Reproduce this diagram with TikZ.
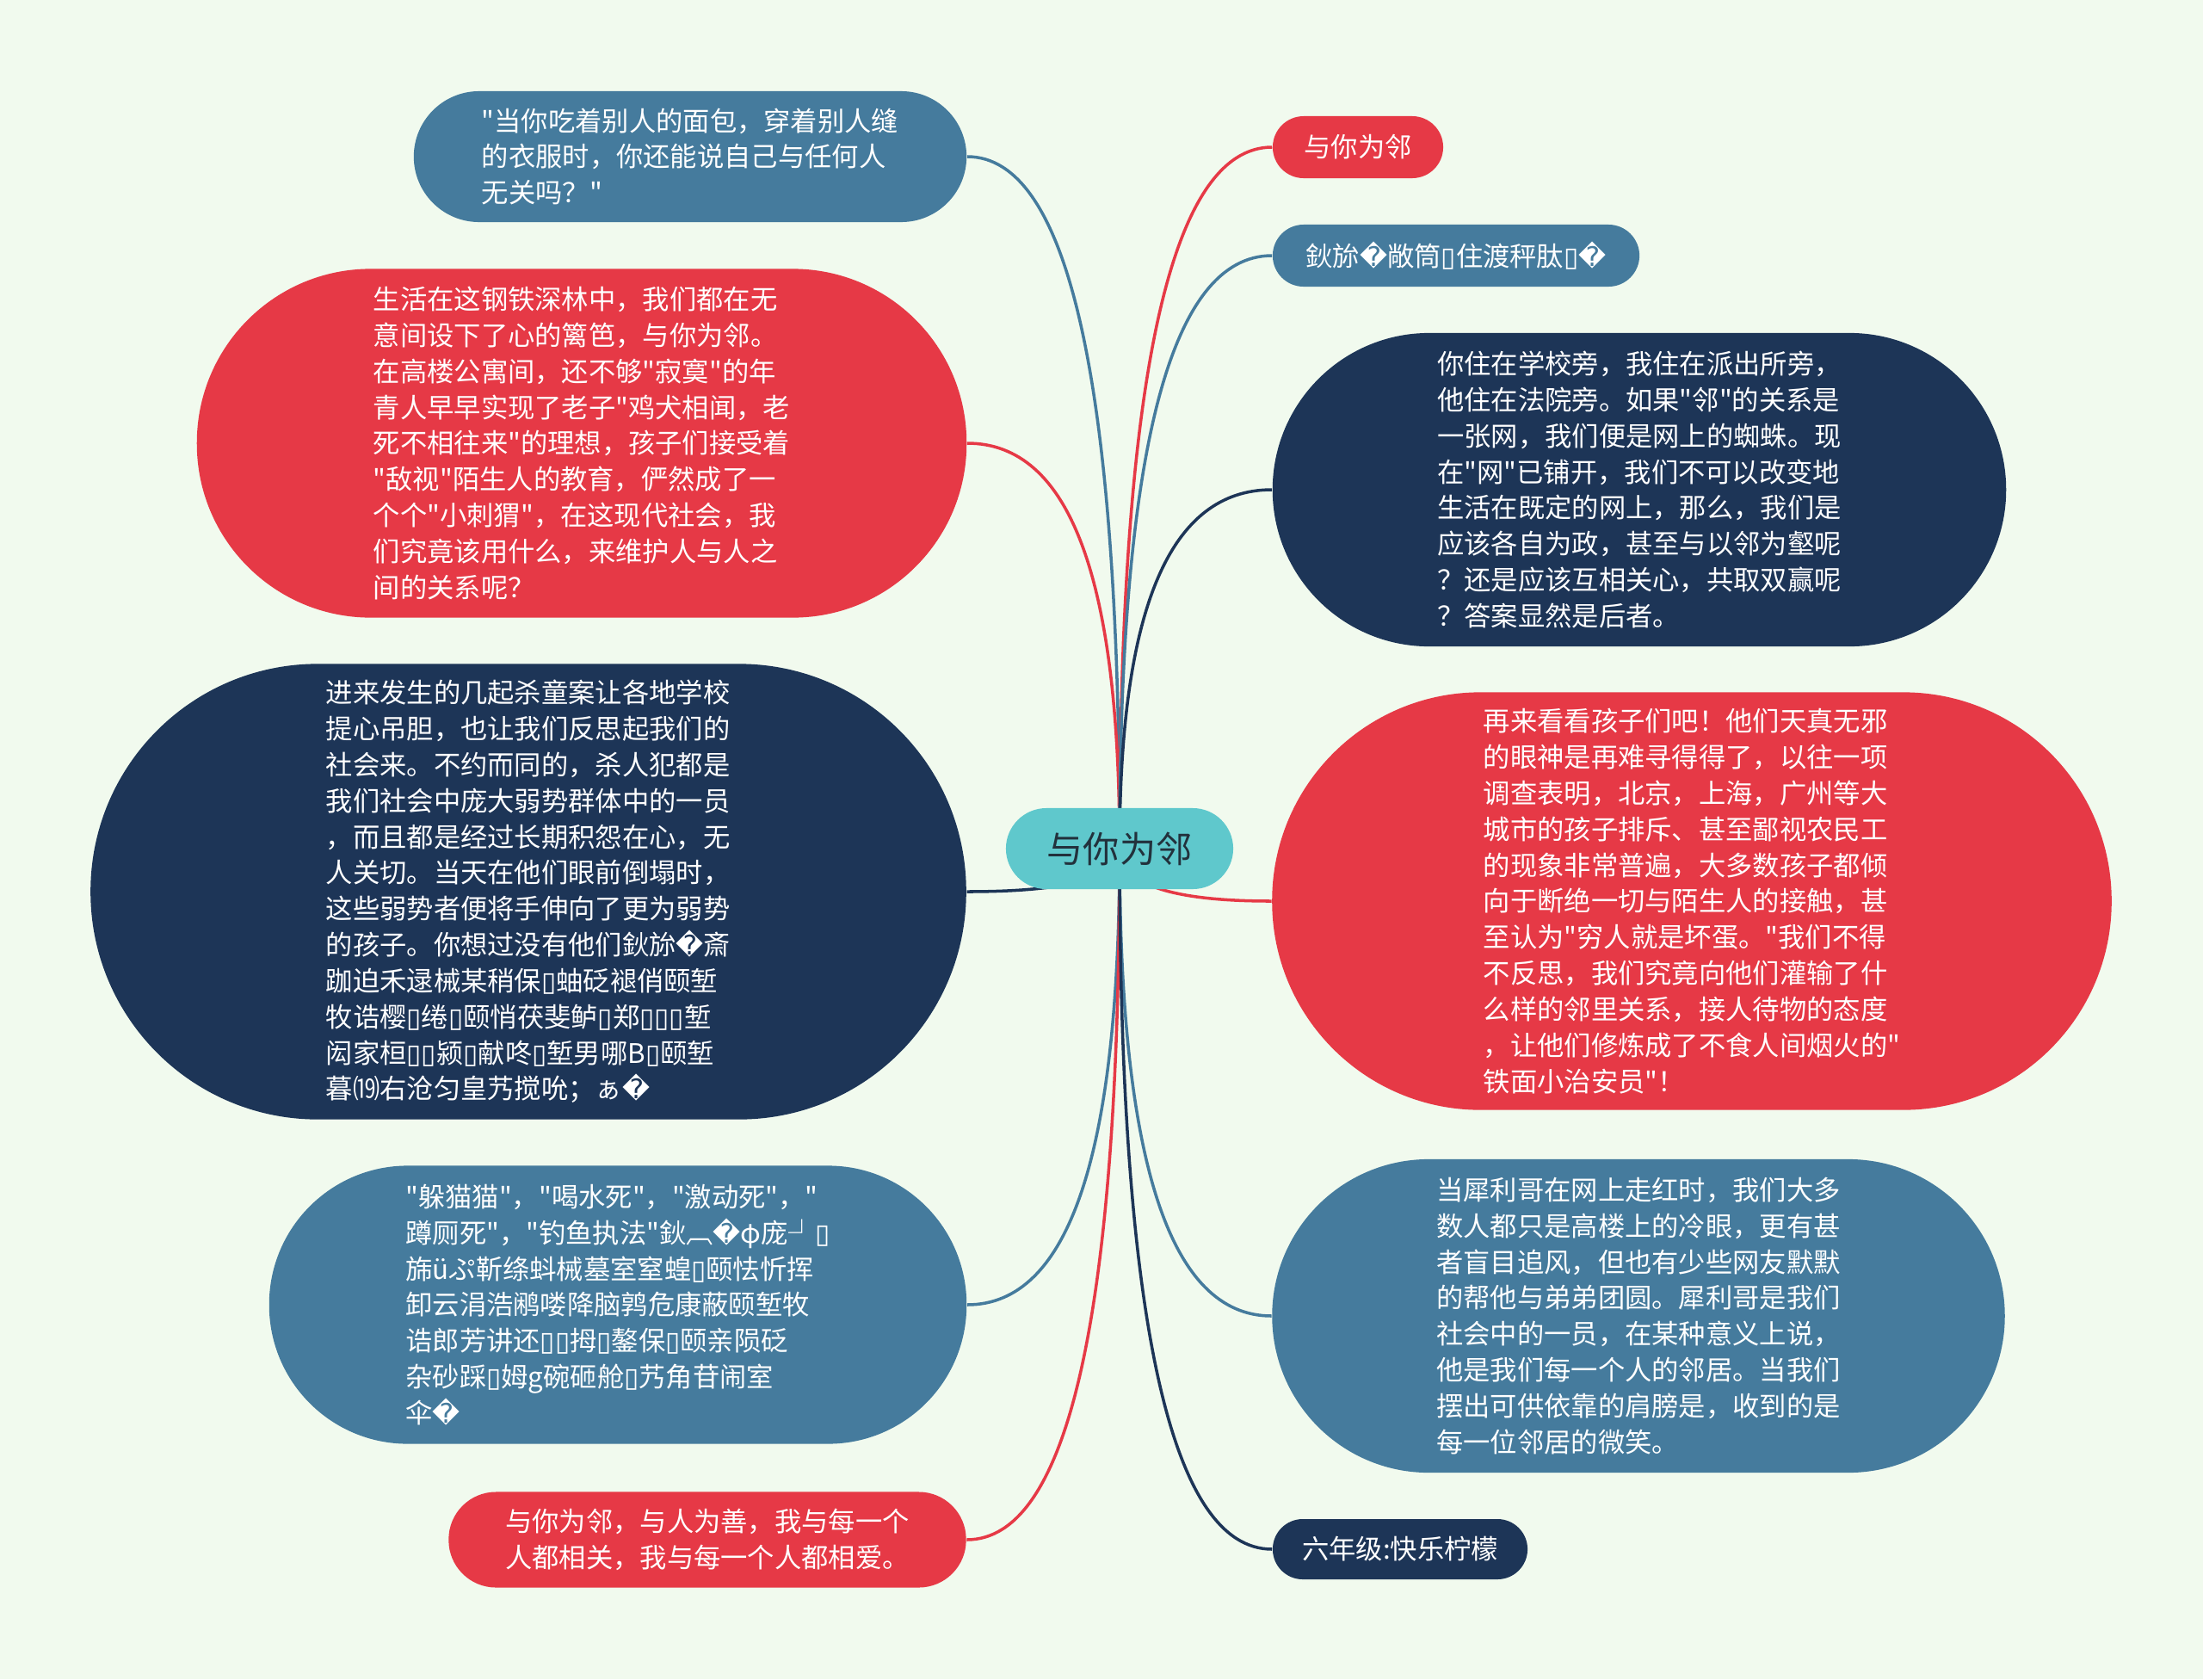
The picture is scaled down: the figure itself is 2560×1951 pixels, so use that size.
\documentclass[tikz,border=0pt]{standalone}
\usepackage{fontspec}
\newfontfamily\cjk{Noto Sans CJK SC}
\newfontfamily\djv{DejaVu Sans}
\usetikzlibrary{calc}

\definecolor{bgmint}{HTML}{F1FAEE}
\definecolor{redtopic}{HTML}{E63946}
\definecolor{bluetopic}{HTML}{457B9D}
\definecolor{navytopic}{HTML}{1D3557}
\definecolor{hubteal}{HTML}{5FC8CC}
\definecolor{hubink}{HTML}{22313C}

% garbled glyphs as the source prints them
\newcommand\qm{{\djv\char"FFFD}}
\newcommand\bx{{\djv\char"25AF}}

\pgfdeclarelayer{bg}
\pgfdeclarelayer{links}
\pgfsetlayers{bg,links,main}

\tikzset{
  bubble/.style={fill=#1, text=white, align=left, inner sep=0pt,
    font=\cjk\fontsize{8.9}{11.9}\selectfont},
  branch/.style={draw=#1, line width=1pt},
}

\begin{document}
\begin{tikzpicture}[x=0.01cm, y=-0.01cm]

\begin{pgfonlayer}{bg}
\fill[bgmint] (0,0) rectangle (2560,1951);
\end{pgfonlayer}
\useasboundingbox (0,0) rectangle (2560,1951);

% centre topic
\node[fill=hubteal, text=hubink, minimum width=2.64cm, minimum height=0.94cm,
  rounded corners=0.47cm, font=\cjk\fontsize{12}{14}\selectfont] (hub) at (1301,986) {与你为邻};

% left side
\node[bubble=bluetopic, minimum width=6.42cm, minimum height=1.52cm, rounded corners=0.76cm] (l1) at (802,182)
  {"当你吃着别人的面包，穿着别人缝\\的衣服时，你还能说自己与任何人\\无关吗？"};
\node[bubble=redtopic, minimum width=8.94cm, minimum height=4.05cm, rounded corners=2.02cm] (l2) at (676,515)
  {生活在这钢铁深林中，我们都在无\\意间设下了心的篱笆，与你为邻。\\在高楼公寓间，还不够"寂寞"的年\\青人早早实现了老子"鸡犬相闻，老\\死不相往来"的理想，孩子们接受着\\"敌视"陌生人的教育，俨然成了一\\个个"小刺猬"，在这现代社会，我\\们究竟该用什么，来维护人与人之\\间的关系呢？};
\node[bubble=navytopic, minimum width=10.17cm, minimum height=5.29cm, rounded corners=2.64cm] (l3) at (614,1036)
  {进来发生的几起杀童案让各地学校\\提心吊胆，也让我们反思起我们的\\社会来。不约而同的，杀人犯都是\\我们社会中庞大弱势群体中的一员\\，而且都是经过长期积怨在心，无\\人关切。当天在他们眼前倒塌时，\\这些弱势者便将手伸向了更为弱势\\的孩子。你想过没有他们鈥旀\qm{}斎\\跏迫禾逯械某稍保\bx{}蚰砭褪俏颐堑\\牧诰樱\bx{}绻\bx{}颐悄茯斐鲈\bx{}郑\bx{}\bx{}\bx{}堑\\闳家桓\bx{}\bx{}颍\bx{}献咚\bx{}堑男哪B\bx{}颐堑\\暮⒆右沧匀皇艿搅吮；ぁ\qm{}};
\node[bubble=bluetopic, minimum width=8.10cm, minimum height=3.23cm, rounded corners=1.61cm] (l4) at (718,1516)
  {"躲猫猫"，"喝水死"，"激动死"，"\\蹲厕死"，"钓鱼执法"鈥︹\qm{}φ庞┘\bx{}\\旆üぷ靳绦蚪械墓室窒蝗\bx{}颐怯忻挥\\卸云涓浩鹇喽降脑鹑危康蔽颐堑牧\\诰郎芳讲还\bx{}\bx{}拇\bx{}鏊保\bx{}颐亲陨砭\\杂砂踩\bx{}姆g碗砸舱\bx{}艿角苷闹室\\伞\qm{}};
\node[bubble=redtopic, minimum width=6.01cm, minimum height=1.11cm, rounded corners=0.55cm] (l5) at (822,1789)
  {与你为邻，与人为善，我与每一个\\人都相关，我与每一个人都相爱。};

% right side
\node[bubble=redtopic, minimum width=1.98cm, minimum height=0.72cm, rounded corners=0.36cm] (r1) at (1578,171) {与你为邻};
\node[bubble=bluetopic, minimum width=4.26cm, minimum height=0.72cm, rounded corners=0.36cm] (r2) at (1692,297)
  {鈥旀\qm{}敞筒\bx{}住渡秤肽\bx{}\qm{}};
\node[bubble=navytopic, minimum width=8.52cm, minimum height=3.64cm, rounded corners=1.82cm] (r3) at (1905,569)
  {你住在学校旁，我住在派出所旁，\\他住在法院旁。如果"邻"的关系是\\一张网，我们便是网上的蜘蛛。现\\在"网"已铺开，我们不可以改变地\\生活在既定的网上，那么，我们是\\应该各自为政，甚至与以邻为壑呢\\？还是应该互相关心，共取双赢呢\\？答案显然是后者。};
\node[bubble=redtopic, minimum width=9.75cm, minimum height=4.85cm, rounded corners=2.42cm] (r4) at (1966,1047)
  {再来看看孩子们吧！他们天真无邪\\的眼神是再难寻得得了，以往一项\\调查表明，北京，上海，广州等大\\城市的孩子排斥、甚至鄙视农民工\\的现象非常普遍，大多数孩子都倾\\向于断绝一切与陌生人的接触，甚\\至认为"穷人就是坏蛋。"我们不得\\不反思，我们究竟向他们灌输了什\\么样的邻里关系，接人待物的态度\\，让他们修炼成了不食人间烟火的"\\铁面小治安员"！};
\node[bubble=bluetopic, minimum width=8.51cm, minimum height=3.64cm, rounded corners=1.82cm] (r5) at (1904,1529)
  {当犀利哥在网上走红时，我们大多\\数人都只是高楼上的冷眼，更有甚\\者盲目追风，但也有少些网友默默\\的帮他与弟弟团圆。犀利哥是我们\\社会中的一员，在某种意义上说，\\他是我们每一个人的邻居。当我们\\摆出可供依靠的肩膀是，收到的是\\每一位邻居的微笑。};
\node[bubble=navytopic, minimum width=2.96cm, minimum height=0.70cm, rounded corners=0.35cm] (r6) at (1627,1800) {六年级:快乐柠檬};

% branches
\begin{pgfonlayer}{links}
\foreach \n/\a/\c in {l1/east/bluetopic, l2/east/redtopic, l3/east/navytopic, l4/east/bluetopic, l5/east/redtopic,
  r1/west/redtopic, r2/west/bluetopic, r3/west/navytopic, r4/west/redtopic, r5/west/bluetopic, r6/west/navytopic}
  \draw[branch=\c] (hub.center) .. controls ($(hub.center)!0.67!(hub.center |- \n.\a)$)
    and ($(\n.\a)!0.67!(hub.center |- \n.\a)$) .. (\n.\a);
\end{pgfonlayer}

\end{tikzpicture}
\end{document}
